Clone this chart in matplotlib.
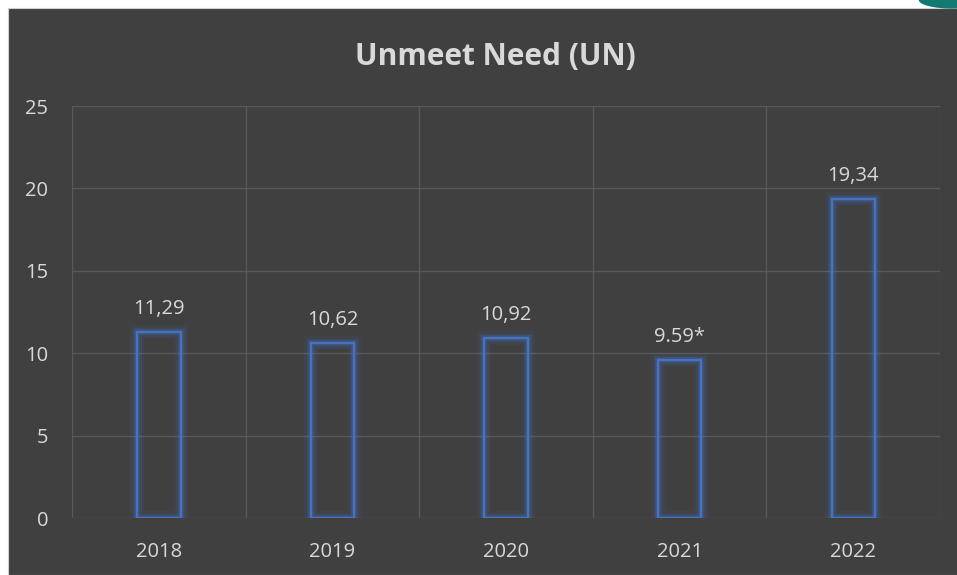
import matplotlib.pyplot as plt
import matplotlib.patheffects as pe
from matplotlib.patches import Rectangle, Ellipse

# Data
years = ["2018", "2019", "2020", "2021", "2022"]
values = [11.29, 10.62, 10.92, 9.59, 19.34]
labels = ["11,29", "10,62", "10,92", "9.59*", "19,34"]

bg = "#404040"
grid_c = "#595959"
text_c = "#d9d9d9"
bar_c = "#4472C4"

plt.rcParams["font.family"] = ["Open Sans", "DejaVu Sans"]

fig = plt.figure(figsize=(9.57, 5.75), dpi=100)
fig.patch.set_facecolor("white")
# dark chart panel with a thin white margin top/left
fig.patches.append(Rectangle((8 / 957, 0), 1, 1 - 8 / 575, transform=fig.transFigure,
                             facecolor=bg, edgecolor="#d0d0d0", linewidth=0.8, zorder=-10))
fig.patches.append(Ellipse((0.995, 1.0), 0.07, 0.03, transform=fig.transFigure,
                           facecolor="#127a72", edgecolor="none", zorder=-9))

ax = fig.add_axes([72 / 957, 1 - 518 / 575, 868 / 957, 412 / 575])
ax.set_facecolor("none")

x = range(len(years))
bars = ax.bar(x, values, width=0.25, facecolor="none", edgecolor=bar_c, linewidth=1.6, zorder=3)
for b in bars:
    b.set_path_effects([
        pe.Stroke(linewidth=10, foreground=bar_c, alpha=0.07),
        pe.Stroke(linewidth=6.5, foreground=bar_c, alpha=0.14),
        pe.Stroke(linewidth=4, foreground=bar_c, alpha=0.28),
        pe.Normal(),
    ])

for xi, v, lab in zip(x, values, labels):
    ax.annotate(lab, (xi, v), xytext=(0, 13), textcoords="offset points",
                ha="center", va="baseline", color=text_c, fontsize=14.5)

ax.set_xlim(-0.5, len(years) - 0.5)
ax.set_ylim(0, 25)
ax.set_yticks([0, 5, 10, 15, 20, 25])
ax.set_xticks(list(x))
ax.set_xticklabels(years)
ax.set_xticks([i - 0.5 for i in range(len(years) + 1)], minor=True)

ax.grid(axis="y", which="major", color=grid_c, linewidth=1.0, zorder=0)
ax.grid(axis="x", which="minor", color=grid_c, linewidth=1.0, zorder=0)
ax.tick_params(axis="both", which="both", length=0, colors=text_c, labelsize=14.5)
ax.tick_params(axis="y", pad=17)
ax.tick_params(axis="x", pad=17)
for s in ax.spines.values():
    s.set_visible(False)

fig.text(495 / 957, 1 - 57 / 575, "Unmeet Need (UN)", ha="center", va="center",
         color=text_c, fontsize=21.5, fontweight="bold")

fig.savefig("out.png", dpi=100, facecolor=fig.get_facecolor())
